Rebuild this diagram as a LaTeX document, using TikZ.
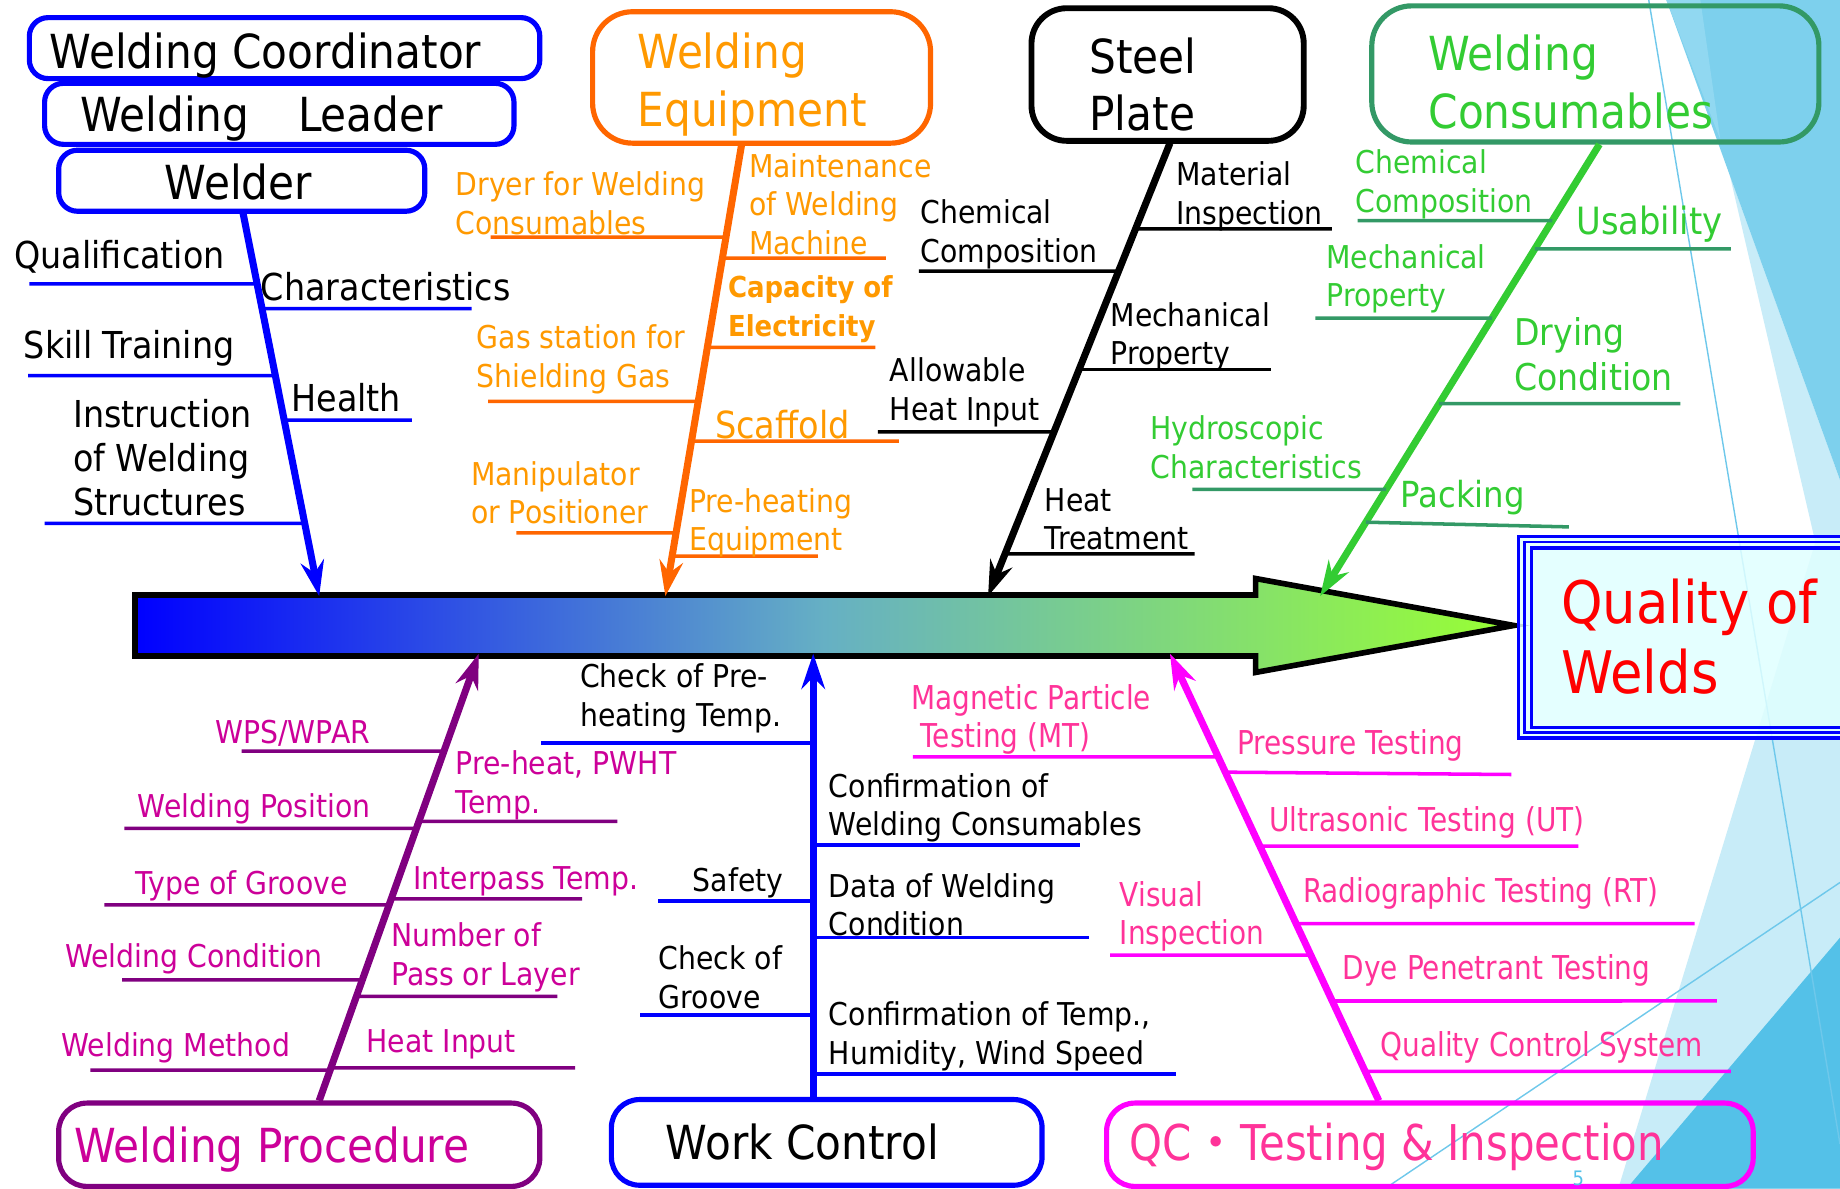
\documentclass[tikz,border=0pt]{standalone}
\usepackage{fontspec}
\setmainfont{DejaVu Sans}[FakeStretch=0.9]
\newfontfamily\condfont{DejaVu Sans}[FakeStretch=0.85]
\newfontfamily\cjkfont{Noto Sans CJK JP}
\usetikzlibrary{arrows.meta,calc}

\definecolor{cBlue}{RGB}{0,0,255}
\definecolor{cOrL}{RGB}{255,102,0}
\definecolor{cOrT}{RGB}{255,153,0}
\definecolor{cGrL}{RGB}{51,153,102}
\definecolor{cGrT}{RGB}{51,204,51}
\definecolor{cPuL}{RGB}{128,0,128}
\definecolor{cPuT}{RGB}{204,0,153}
\definecolor{cMaL}{RGB}{255,0,255}
\definecolor{cPkT}{RGB}{255,51,153}
\definecolor{cRed}{RGB}{255,0,0}
\definecolor{cCyan}{RGB}{224,255,255}
\definecolor{bgMid}{RGB}{125,208,237}
\definecolor{bgBand}{RGB}{145,216,241}
\definecolor{bgPale}{RGB}{200,236,248}
\definecolor{bgDark}{RGB}{84,193,232}
\definecolor{bgLine}{RGB}{110,200,235}
\definecolor{barBlue}{RGB}{0,0,255}
\definecolor{barMid}{RGB}{102,176,196}
\definecolor{barGreen}{RGB}{153,255,51}

% rib from a point on a spine (given as a fraction of its length) to a free end
\newcommand\rib[5]{\draw[#1] ($(#2)!{#4}!(#3)$) -- (#5);}

\begin{document}
\begin{tikzpicture}[x=0.5pt,y=-0.5pt,
  lbl/.style={anchor=west, inner sep=0pt, align=left, font=\fontsize{13.4}{16.5}\selectfont},
  lblL/.style={lbl, font=\fontsize{15.8}{18.75}\selectfont},
  plbl/.style={lbl, text=cPkT, font=\condfont\fontsize{14}{16.5}\selectfont},
  ttl/.style={anchor=west, inner sep=0pt, align=left, font=\fontsize{20}{24.5}\selectfont},
  rbox/.style={draw, line width=2.2pt, rounded corners=8pt, inner sep=0pt},
  ribline/.style={line width=1.5pt},
  spine/.style={line width=3pt, -{Stealth[length=15pt,width=10pt,inset=5pt]}}]

\useasboundingbox (0,0) rectangle (1568,1013);
\clip (0,0) rectangle (1568,1013);
\fill[white] (0,0) rectangle (1568,1013);

% ---- background facets on the right ----
\fill[bgPale] (1474,149) -- (1547,462) -- (1379,1013) -- (1568,1013) -- (1568,409) -- cycle;
\fill[bgMid] (1420,0) -- (1568,0) -- (1568,409) -- cycle;
\fill[bgBand] (1420,0) -- (1449,0) -- (1466,119) -- cycle;
\fill[bgDark] (1386,1013) -- (1568,799) -- (1568,1013) -- cycle;
\draw[bgLine, line width=0.6pt] (1405,0) -- (1568,975);
\draw[bgLine, line width=0.6pt] (1180,1013) -- (1568,752);

% ---- main arrow ----
\draw[left color=barBlue, right color=barGreen, middle color=barMid,
      line width=2.4pt, line join=miter]
  (115,507) -- (1070,507) -- (1070,493) -- (1290,533) -- (1070,573) -- (1070,559) -- (115,559) -- cycle;

% ---- result box ----
\fill[cCyan, fill opacity=0.85] (1294,457) rectangle (1600,629);
\draw[cBlue, line width=1.4pt] (1294,457) rectangle (1600,629);
\draw[cBlue, line width=1.1pt] (1299,462) rectangle (1600,624.2);
\draw[cBlue, line width=1.4pt] (1305,467) rectangle (1600,619.8);
\node[anchor=west, inner sep=0pt, align=left, text=cRed,
      font=\fontsize{25}{29.5}\selectfont] (qw) at (1330,542.5) {Quality of\\Welds};

% ---- Welder group ----
\node[rbox, draw=cBlue, minimum width=217.5pt, minimum height=26pt] (wc) at (242.5,41) {};
\node[ttl] (wcT) at (42,47) {Welding Coordinator};
\node[rbox, draw=cBlue, minimum width=200pt, minimum height=26pt] (wl) at (238,97) {};
\node[ttl] (wlT) at (68,101) {Welding\hspace{15pt} Leader};
\node[rbox, draw=cBlue, minimum width=156pt, minimum height=26pt] (wd) at (206,154) {};
\node[ttl] (wdT) at (140,155) {Welder};
\coordinate (wt) at (207,181);
\coordinate (wa) at (272,508);
\draw[spine, cBlue] (wt) -- (wa);
\coordinate (w1) at (25,242);
\coordinate (w2) at (402,263);
\coordinate (w3) at (24,320);
\coordinate (w4) at (351,358);
\coordinate (w5) at (38,446);
\rib{ribline,cBlue}{wt}{wa}{(242-181)/327}{w1}
\rib{ribline,cBlue}{wt}{wa}{(263-181)/327}{w2}
\rib{ribline,cBlue}{wt}{wa}{(320-181)/327}{w3}
\rib{ribline,cBlue}{wt}{wa}{(358-181)/327}{w4}
\rib{ribline,cBlue}{wt}{wa}{(446-181)/327}{w5}
\node[lblL] (tw1) at (12,219) {Qualification};
\node[lblL] (tw2) at (222,244) {Characteristics};
\node[lblL] (tw3) at (20,297) {Skill Training};
\node[lblL] (tw4) at (248,339) {Health};
\node[lblL] (tw5) at (62,390) {Instruction\\of Welding\\Structures};

% ---- Welding Equipment group ----
\node[rbox, draw=cOrL, rounded corners=17pt, minimum width=144pt, minimum height=56pt] (we) at (649,66) {};
\node[ttl, text=cOrT] (weT) at (543,72) {Welding\\Equipment};
\coordinate (et) at (632,123);
\coordinate (ea) at (567,508);
\draw[spine, cOrL] (et) -- (ea);
\coordinate (e1) at (418,202);
\coordinate (e2) at (755,220);
\coordinate (e3) at (746,296);
\coordinate (e4) at (416,342);
\coordinate (e5) at (766,376);
\coordinate (e6) at (440,454);
\coordinate (e7) at (697,474);
\rib{ribline,cOrL}{et}{ea}{(202-123)/385}{e1}
\rib{ribline,cOrL}{et}{ea}{(220-123)/385}{e2}
\rib{ribline,cOrL}{et}{ea}{(296-123)/385}{e3}
\rib{ribline,cOrL}{et}{ea}{(342-123)/385}{e4}
\rib{ribline,cOrL}{et}{ea}{(376-123)/385}{e5}
\rib{ribline,cOrL}{et}{ea}{(454-123)/385}{e6}
\rib{ribline,cOrL}{et}{ea}{(474-123)/385}{e7}
\node[lbl, text=cOrT] (te1) at (388,173) {Dryer for Welding\\Consumables};
\node[lbl, text=cOrT] (te2) at (638,174) {Maintenance\\of Welding\\Machine};
\node[lbl, text=cOrT, font=\bfseries\fontsize{12.3}{16.5}\selectfont] (te3) at (620,263.5) {Capacity of\\Electricity};
\node[lbl, text=cOrT] (te4) at (406,306.5) {Gas station for\\Shielding Gas};
\node[lbl, text=cOrT, font=\fontsize{15.9}{18}\selectfont] (te5) at (609,362) {Scaffold};
\node[lbl, text=cOrT] (te6) at (401,420) {Manipulator\\or Positioner};
\node[lbl, text=cOrT] (te7) at (587,445.5) {Pre-heating\\Equipment};

% ---- Steel Plate group ----
\node[rbox, draw=black, line width=2.5pt, rounded corners=15pt, minimum width=116pt, minimum height=56.5pt] (sp) at (995,63.5) {};
\node[ttl] (spT) at (928,72) {Steel\\Plate};
\coordinate (st) at (997,122);
\coordinate (sa) at (842,508);
\draw[spine, black] (st) -- (sa);
\coordinate (s1) at (1135,195);
\coordinate (s2) at (783,231);
\coordinate (s3) at (1083,315);
\coordinate (s4) at (748,368);
\coordinate (s5) at (1018,472);
\rib{ribline,black}{st}{sa}{(195-122)/386}{s1}
\rib{ribline,black}{st}{sa}{(231-122)/386}{s2}
\rib{ribline,black}{st}{sa}{(315-122)/386}{s3}
\rib{ribline,black}{st}{sa}{(368-122)/386}{s4}
\rib{ribline,black}{st}{sa}{(472-122)/386}{s5}
\node[lbl] (ts1) at (1002,167) {Material\\Inspection};
\node[lbl] (ts2) at (784,199.5) {Chemical\\Composition};
\node[lbl] (ts3) at (946,287) {Mechanical\\Property};
\node[lbl] (ts4) at (758,334.5) {Allowable\\Heat Input};
\node[lbl] (ts5) at (890,442.5) {Heat\\Treatment};

% ---- Welding Consumables group ----
\node[rbox, draw=cGrL, rounded corners=17pt, minimum width=190.5pt, minimum height=58pt] (gc) at (1359.5,63) {};
\node[ttl, text=cGrT] (gcT) at (1217,70) {Welding\\Consumables};
\coordinate (gt) at (1363,123);
\coordinate (ga) at (1125,508);
\draw[spine, cGrT] (gt) -- (ga);
\coordinate (g1) at (1157,188);
\coordinate (g2) at (1475,212);
\coordinate (g3) at (1121,271);
\coordinate (g4) at (1432,344);
\coordinate (g5) at (1016,417);
\coordinate (g6) at (1337,449);
\rib{ribline,cGrL}{gt}{ga}{(188-123)/385}{g1}
\rib{ribline,cGrL}{gt}{ga}{(212-123)/385}{g2}
\rib{ribline,cGrL}{gt}{ga}{(271-123)/385}{g3}
\rib{ribline,cGrL}{gt}{ga}{(344-123)/385}{g4}
\rib{ribline,cGrL}{gt}{ga}{(417-123)/385}{g5}
\rib{ribline,cGrL}{gt}{ga}{(445-123)/385}{g6}
\node[lbl, text=cGrT] (tg1) at (1155,157) {Chemical\\Composition};
\node[lbl, text=cGrT, font=\fontsize{16}{19}\selectfont] (tg2) at (1343,191) {Usability};
\node[lbl, text=cGrT] (tg3) at (1130,237.5) {Mechanical\\Property};
\node[lbl, text=cGrT, font=\fontsize{15.7}{19}\selectfont] (tg4) at (1290,302) {Drying\\Condition};
\node[lbl, text=cGrT] (tg5) at (980,381) {Hydroscopic\\Characteristics};
\node[lbl, text=cGrT, font=\fontsize{15.3}{18}\selectfont] (tg6) at (1193,424) {Packing};

% ---- Welding Procedure group ----
\node[rbox, draw=cPuL, rounded corners=12pt, minimum width=205pt, minimum height=35.5pt] (wp) at (255,975.5) {};
\node[ttl, text=cPuT] (wpT) at (63,980) {Welding Procedure};
\coordinate (pt) at (272,938);
\coordinate (pa) at (408,557);
\draw[spine, cPuL] (pt) -- (pa);
\coordinate (p1) at (206,640);
\coordinate (p2) at (106,706);
\coordinate (p3) at (89,771);
\coordinate (p4) at (104,835);
\coordinate (p5) at (77,912);
\coordinate (p6) at (526,700);
\coordinate (p7) at (496,766);
\coordinate (p8) at (475,849);
\coordinate (p9) at (490,910);
\rib{ribline,cPuL}{pt}{pa}{(938-640)/381}{p1}
\rib{ribline,cPuL}{pt}{pa}{(938-706)/381}{p2}
\rib{ribline,cPuL}{pt}{pa}{(938-771)/381}{p3}
\rib{ribline,cPuL}{pt}{pa}{(938-835)/381}{p4}
\rib{ribline,cPuL}{pt}{pa}{(938-912)/381}{p5}
\rib{ribline,cPuL}{pt}{pa}{(938-700)/381}{p6}
\rib{ribline,cPuL}{pt}{pa}{(938-766)/381}{p7}
\rib{ribline,cPuL}{pt}{pa}{(938-849)/381}{p8}
\rib{ribline,cPuL}{pt}{pa}{(938-910)/381}{p9}
\node[lbl, text=cPuT] (tp1) at (183,625) {WPS/WPAR};
\node[lbl, text=cPuT] (tp2) at (117,689) {Welding Position};
\node[lbl, text=cPuT] (tp3) at (115,755) {Type of Groove};
\node[lbl, text=cPuT] (tp4) at (55,817) {Welding Condition};
\node[lbl, text=cPuT] (tp5) at (52,893) {Welding Method};
\node[lbl, text=cPuT] (tp6) at (388,669) {Pre-heat, PWHT\\Temp.};
\node[lbl, text=cPuT] (tp7) at (352,751) {Interpass Temp.};
\node[lbl, text=cPuT] (tp8) at (333,816) {Number of\\Pass or Layer};
\node[lbl, text=cPuT] (tp9) at (312,890) {Heat Input};

% ---- Work Control group ----
\node[rbox, draw=cBlue, rounded corners=12pt, minimum width=183.5pt, minimum height=36.5pt] (wk) at (704.5,973.5) {};
\node[ttl] (wkT) at (567,973.5) {Work Control};
\coordinate (kt) at (693,937);
\coordinate (ka) at (693,557);
\draw[spine, cBlue] (kt) -- (ka);
\coordinate (k1) at (461,633);
\coordinate (k2) at (561,768);
\coordinate (k3) at (545,865);
\coordinate (k4) at (920,720);
\coordinate (k5) at (928,799);
\coordinate (k6) at (1002,915);
\foreach \k in {k1,k2,k3,k4,k5,k6} \draw[ribline, cBlue] (\k -| kt) -- (\k);
\node[lbl] (tk1) at (494,595) {Check of Pre-\\heating Temp.};
\node[lbl] (tk2) at (590,752) {Safety};
\node[lbl] (tk3) at (561,833) {Check of\\Groove};
\node[lbl] (tk4) at (706,688.5) {Confirmation of\\Welding Consumables};
\node[lbl] (tk5) at (706,771) {Data of Welding\\Condition};
\node[lbl] (tk6) at (706,883) {Confirmation of Temp.,\\Humidity, Wind Speed};

% ---- QC / Testing group ----
\node[rbox, draw=cMaL, rounded corners=12pt, minimum width=275.5pt, minimum height=35.5pt] (qc) at (1218.5,975.5) {};
\node[ttl, text=cPkT, font=\condfont\fontsize{21}{24}\selectfont] (qcT) at (962,977.5)
      {QC{\cjkfont ・}Testing \& Inspection};
\coordinate (qt) at (1175,938);
\coordinate (qa) at (997,557);
\draw[spine, cMaL] (qt) -- (qa);
\coordinate (q1) at (778,645);
\coordinate (q2) at (946,814);
\coordinate (q3) at (1288,660);
\coordinate (q4) at (1345,721);
\coordinate (q5) at (1444,787);
\coordinate (q6) at (1463,853);
\coordinate (q7) at (1475,913);
\rib{ribline,cMaL}{qt}{qa}{(938-645)/381}{q1}
\rib{ribline,cMaL}{qt}{qa}{(938-814)/381}{q2}
\rib{ribline,cMaL}{qt}{qa}{(938-658)/381}{q3}
\rib{ribline,cMaL}{qt}{qa}{(938-721)/381}{q4}
\rib{ribline,cMaL}{qt}{qa}{(938-787)/381}{q5}
\rib{ribline,cMaL}{qt}{qa}{(938-853)/381}{q6}
\rib{ribline,cMaL}{qt}{qa}{(938-913)/381}{q7}
\node[plbl] (tq1) at (776,613) {Magnetic Particle\\\hspace*{4pt}Testing (MT)};
\node[plbl] (tq2) at (954,781) {Visual\\Inspection};
\node[plbl] (tq3) at (1054,635) {Pressure Testing};
\node[plbl] (tq4) at (1081,701) {Ultrasonic Testing (UT)};
\node[plbl] (tq5) at (1110,761) {Radiographic Testing (RT)};
\node[plbl] (tq6) at (1144,827) {Dye Penetrant Testing};
\node[plbl] (tq7) at (1176,893) {Quality Control System};

% slide number
\node[inner sep=0pt, text=bgDark, font=\fontsize{8.5}{9}\selectfont] (pg) at (1345,1004) {5};
\end{tikzpicture}
\end{document}
